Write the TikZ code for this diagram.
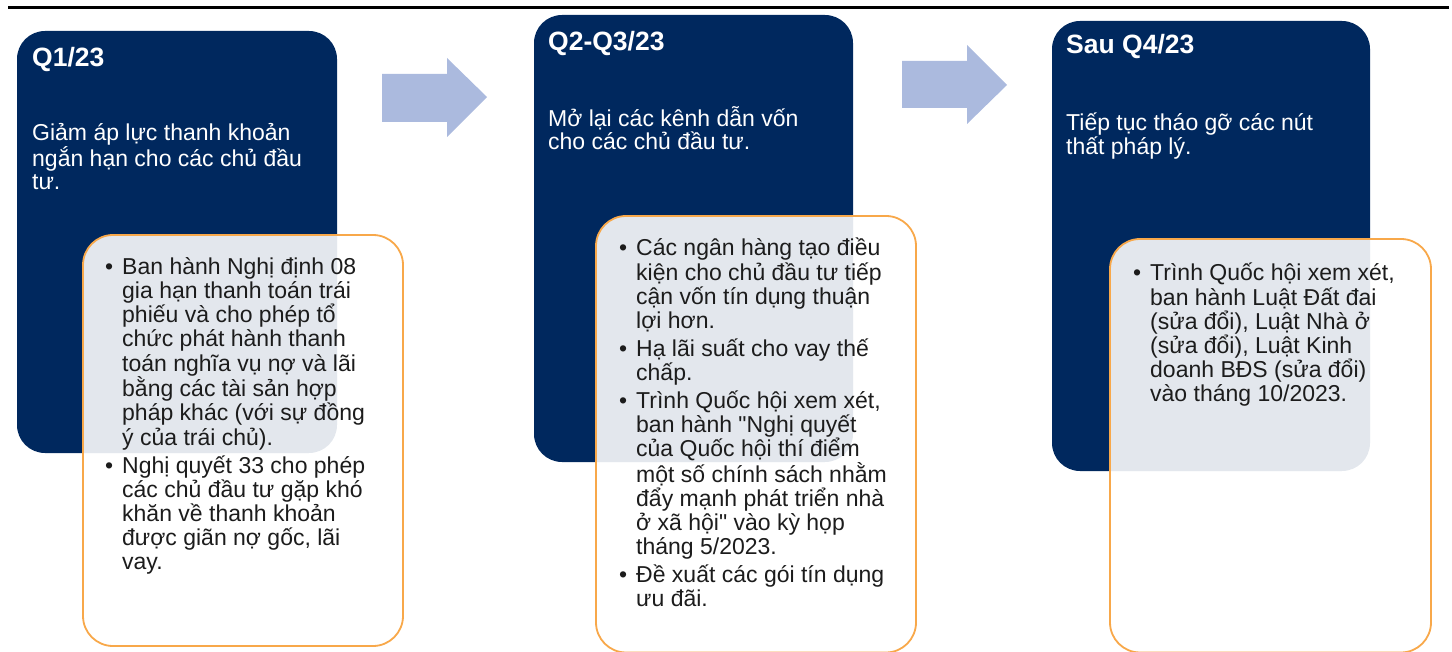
\documentclass[tikz,border=0pt]{standalone}
\usepackage{fontspec}
\setmainfont{Liberation Sans}[Ligatures=TeXOff]
\definecolor{navy}{RGB}{0,40,94}
\definecolor{peach}{RGB}{248,168,74}
\definecolor{lilac}{RGB}{171,186,222}
\definecolor{ink}{RGB}{28,28,28}
\newcommand\bul{\llap{•\hspace{9pt}}}
\begin{document}
\begin{tikzpicture}[x=1pt,y=-1pt,
  phase/.style={fill=navy,rounded corners=28pt},
  detail/.style={draw=peach,line width=1.8pt,fill=white,fill opacity=0.89,rounded corners=30pt},
  head/.style={anchor=base west,inner sep=0pt,text=white,font=\fontsize{26.5}{28}\selectfont\bfseries},
  aim/.style={anchor=base west,inner sep=0pt,text=white,align=left,font=\fontsize{23}{23.5}\selectfont},
  steps/.style={anchor=base west,inner sep=0pt,text=ink,align=left,font=\fontsize{23}{24.1}\selectfont}]
\useasboundingbox (0,0) rectangle (1452,652);

% top rule
\draw[line width=3pt] (8,7.5) -- (1449,7.5);

% outline
\fill[phase] (17,31) rectangle (337,453);
\fill[phase] (534,15) rectangle (853,462);
\fill[phase] (1052,21) rectangle (1370,471);
\draw[detail] (83,235) rectangle (403,646);
\draw[detail] (596,216) rectangle (916,652.5);
\draw[detail] (1110,239) rectangle (1431,652.5);

% arrows
\fill[lilac] (382,74) -- (447,74) -- (447,58) -- (487,97) -- (447,137) -- (447,122) -- (382,122) -- cycle;
\fill[lilac] (902,61) -- (967,61) -- (967,45) -- (1007,85) -- (967,124) -- (967,108) -- (902,108) -- cycle;

% first stage (multi-line nodes sit on their last baseline)
\node[head] (t1) at (32,67) {Q1/23};
\node[aim] (a1) at (32,190) {Giảm áp lực thanh khoản\\ngắn hạn cho các chủ đầu\\tư.};
\node[steps] (s1) at (122,569.5) {\bul Ban hành Nghị định 08\\gia hạn thanh toán trái\\phiếu và cho phép tổ\\chức phát hành thanh\\toán nghĩa vụ nợ và lãi\\bằng các tài sản hợp\\pháp khác (với sự đồng\\ý của trái chủ).\\[4pt]
  \bul Nghị quyết 33 cho phép\\các chủ đầu tư gặp khó\\khăn về thanh khoản\\được giãn nợ gốc, lãi\\vay.};

% second stage
\node[head] (t2) at (548,51) {Q2-Q3/23};
\node[aim] (a2) at (548,150) {Mở lại các kênh dẫn vốn\\cho các chủ đầu tư.};
\node[steps] (s2) at (636,606.5) {\bul Các ngân hàng tạo điều\\kiện cho chủ đầu tư tiếp\\cận vốn tín dụng thuận\\lợi hơn.\\[4pt]
  \bul Hạ lãi suất cho vay thế\\chấp.\\[4pt]
  \bul Trình Quốc hội xem xét,\\ban hành "Nghị quyết\\của Quốc hội thí điểm\\một số chính sách nhằm\\đẩy mạnh phát triển nhà\\ở xã hội" vào kỳ họp\\tháng 5/2023.\\[4pt]
  \bul Đề xuất các gói tín dụng\\ưu đãi.};

% third stage
\node[head] (t3) at (1066,54) {Sau Q4/23};
\node[aim] (a3) at (1066,154.5) {Tiếp tục tháo gỡ các nút\\thất pháp lý.};
\node[steps] (s3) at (1150,401.5) {\bul Trình Quốc hội xem xét,\\ban hành Luật Đất đai\\(sửa đổi), Luật Nhà ở\\(sửa đổi), Luật Kinh\\doanh BĐS (sửa đổi)\\vào tháng 10/2023.};
\end{tikzpicture}
\end{document}
